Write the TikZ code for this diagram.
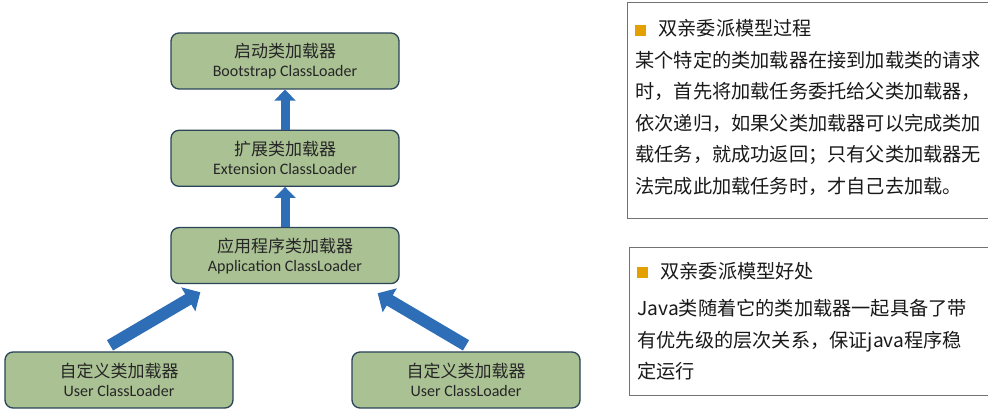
\documentclass[tikz,border=0pt]{standalone}
\usepackage{fontspec}
\setmainfont{Carlito}
\newfontfamily\cjk{Noto Sans CJK SC}
\usetikzlibrary{positioning, arrows.meta}
\usepackage{xcolor}
\definecolor{loaderfill}{RGB}{170,193,148}
\definecolor{loaderline}{RGB}{42,68,88}
\definecolor{arrowblue}{RGB}{46,110,182}
\definecolor{bulletorange}{RGB}{228,160,0}
\tikzset{loader/.style={draw=loaderline, fill=loaderfill, rounded corners=8pt, line width=1.3pt,
           minimum width=228pt, minimum height=56pt, align=center, text=black!85,
           font=\fontsize{16}{19}\selectfont},
         uparrow/.style={arrowblue, line width=9pt, -{Triangle[width=21pt,length=11pt]}},
         slantarrow/.style={arrowblue, line width=12pt, -{Triangle[width=27pt,length=14pt]}},
         panel/.style={draw=black!55, line width=0.8pt, anchor=north west, align=left,
           inner xsep=8pt, text=black!90, font=\cjk\fontsize{19.2}{31.5}\selectfont}}
\newcommand{\sqbullet}{\textcolor{bulletorange}{\rule{11pt}{11pt}}\hspace{12pt}}
\newcommand{\zh}{\cjk\fontsize{17}{19}\selectfont}

\begin{document}
\begin{tikzpicture}[x=1pt, y=1pt, node distance=40pt and 40pt]
        \useasboundingbox (0,0) rectangle (988,414);
        \node[loader] (boot) at (285,353) {{\zh 启动类加载器}\\Bootstrap ClassLoader};
        \node[loader, below=of boot] (ext) {{\zh 扩展类加载器}\\Extension ClassLoader};
        \node[loader, below=of ext] (app) {{\zh 应用程序类加载器}\\Application ClassLoader};
        \node[loader] (user1) at (119,34) {{\zh 自定义类加载器}\\User ClassLoader};
        \node[loader] (user2) at (466,34) {{\zh 自定义类加载器}\\User ClassLoader};
        \draw[uparrow] (ext.north) -- (boot.south);
        \draw[uparrow] (app.north) -- (ext.south);
        \draw[slantarrow] ([xshift=-9pt,yshift=6pt]user1.north) -- ([xshift=30pt,yshift=-8pt]app.south west);
        \draw[slantarrow] ([yshift=6pt]user2.north) -- ([xshift=-22pt,yshift=-9pt]app.south east);
        \node[panel, minimum width=364pt, minimum height=216pt, text width=348pt] (proc) at (627,412)
            {\sqbullet 双亲委派模型过程\\
             某个特定的类加载器在接到加载类的请求\\
             时，首先将加载任务委托给父类加载器，\\
             依次递归，如果父类加载器可以完成类加\\
             载任务，就成功返回；只有父类加载器无\\
             法完成此加载任务时，才自己去加载。\rule[-8pt]{0pt}{8pt}};
        \node[panel, minimum width=362pt, minimum height=148pt, text width=346pt] (merit) at (629,167)
            {\sqbullet 双亲委派模型好处\\[6pt]
             Java类随着它的类加载器一起具备了带\\
             有优先级的层次关系，保证java程序稳\\
             定运行};
    \end{tikzpicture}
\end{document}
